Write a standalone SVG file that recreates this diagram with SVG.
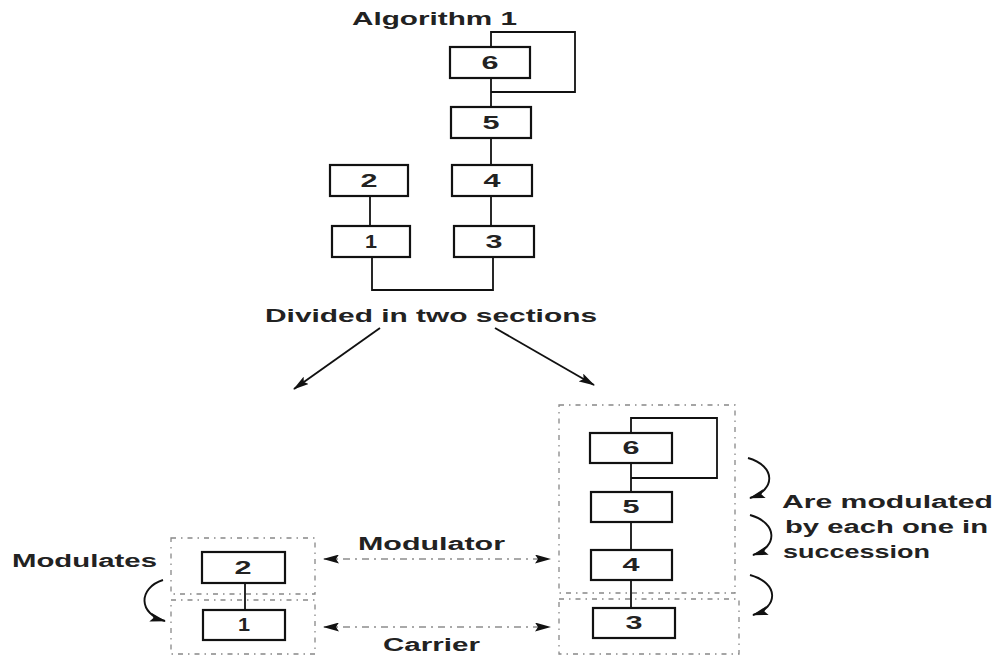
<svg xmlns="http://www.w3.org/2000/svg" width="995" height="656" viewBox="0 0 995 656">
  <style>
    .box { fill: #fff; stroke: #111; stroke-width: 2.2; }
    .num { font-family: "Liberation Sans", Arial, sans-serif; font-size: 18px; font-weight: bold; fill: #222; text-anchor: middle; }
    .lbl { font-family: "Liberation Sans", Arial, sans-serif; font-size: 18px; font-weight: bold; fill: #222; }
    .wire { fill: none; stroke: #111; stroke-width: 1.8; }
    .arrow { fill: none; stroke: #111; stroke-width: 1.9; }
    .group { fill: none; stroke: #888; stroke-width: 1.3; stroke-dasharray: 5 5 1.5 5; }
    .link { fill: none; stroke: #555; stroke-width: 1.2; stroke-dasharray: 7 5 2 5; }
  </style>
  <defs>
    <marker id="head" viewBox="0 0 16 9" refX="15" refY="4.5" markerWidth="16" markerHeight="9" markerUnits="userSpaceOnUse" orient="auto-start-reverse">
      <path d="M0,0 L16,4.5 L0,9 L3,4.5 z" fill="#111"/>
    </marker>
  </defs>

  <rect width="995" height="656" fill="#fff"/>

  <!-- Algorithm 1: full operator stack -->
  <text class="lbl" x="352" y="25" textLength="165" lengthAdjust="spacingAndGlyphs">Algorithm 1</text>

  <g id="connectors">
    <!-- top algorithm wiring -->
    <path class="wire" d="M491,47 V32 H575 V92 H491"/>
    <path class="wire" d="M491,78 V226"/>
    <path class="wire" d="M370,196 V226"/>
    <path class="wire" d="M372,257 V290 H493 V257"/>
    <!-- split arrows -->
    <path class="arrow" d="M380,328 L294,389" marker-end="url(#head)"/>
    <path class="arrow" d="M495,328 L594,385" marker-end="url(#head)"/>
    <!-- bottom left stack -->
    <path class="wire" d="M245,583 V610"/>
    <!-- bottom right stack -->
    <path class="wire" d="M631,433 V418 H717 V478 H631"/>
    <path class="wire" d="M631,463 V608"/>
    <!-- modulator / carrier links -->
    <path class="link" d="M324,559 H550" marker-start="url(#head)" marker-end="url(#head)"/>
    <path class="link" d="M324,627 H550" marker-start="url(#head)" marker-end="url(#head)"/>
    <!-- modulation curves -->
    <path class="arrow" d="M163,580 C138,588 138,614 165,621" marker-end="url(#head)"/>
    <path class="arrow" d="M748,458 C776,466 776,490 750,498" marker-end="url(#head)"/>
    <path class="arrow" d="M750,515 C778,523 778,547 753,555" marker-end="url(#head)"/>
    <path class="arrow" d="M750,575 C779,583 779,607 753,615" marker-end="url(#head)"/>
  </g>

  <!-- dashed section outlines -->
  <g id="sections">
    <rect class="group" x="171" y="538" width="144" height="56"/>
    <rect class="group" x="171" y="600" width="144" height="54"/>
    <rect class="group" x="559" y="405" width="176" height="188"/>
    <rect class="group" x="559" y="599" width="180" height="55"/>
  </g>

  <!-- top operators -->
  <g id="top-op6"><rect class="box" x="450" y="47" width="80" height="31"/><text class="num" x="490" y="69" textLength="17" lengthAdjust="spacingAndGlyphs">6</text></g>
  <g id="top-op5"><rect class="box" x="451" y="107" width="80" height="31"/><text class="num" x="491" y="129" textLength="17" lengthAdjust="spacingAndGlyphs">5</text></g>
  <g id="top-op4"><rect class="box" x="452" y="165" width="80" height="31"/><text class="num" x="492" y="187" textLength="17" lengthAdjust="spacingAndGlyphs">4</text></g>
  <g id="top-op3"><rect class="box" x="454" y="226" width="80" height="31"/><text class="num" x="494" y="248" textLength="17" lengthAdjust="spacingAndGlyphs">3</text></g>
  <g id="top-op2"><rect class="box" x="330" y="165" width="78" height="31"/><text class="num" x="369" y="187" textLength="17" lengthAdjust="spacingAndGlyphs">2</text></g>
  <g id="top-op1"><rect class="box" x="332" y="226" width="78" height="31"/><text class="num" x="371" y="248" textLength="12" lengthAdjust="spacingAndGlyphs">1</text></g>

  <text class="lbl" x="265" y="322" font-size="19" textLength="332" lengthAdjust="spacingAndGlyphs">Divided in two sections</text>

  <!-- left section -->
  <g id="sec-op2"><rect class="box" x="202" y="552" width="83" height="31"/><text class="num" x="243" y="574" textLength="17" lengthAdjust="spacingAndGlyphs">2</text></g>
  <g id="sec-op1"><rect class="box" x="203" y="610" width="82" height="30"/><text class="num" x="244" y="631" textLength="12" lengthAdjust="spacingAndGlyphs">1</text></g>

  <!-- right section -->
  <g id="sec-op6"><rect class="box" x="590" y="433" width="82" height="30"/><text class="num" x="631" y="454" textLength="17" lengthAdjust="spacingAndGlyphs">6</text></g>
  <g id="sec-op5"><rect class="box" x="591" y="492" width="81" height="30"/><text class="num" x="631" y="513" textLength="17" lengthAdjust="spacingAndGlyphs">5</text></g>
  <g id="sec-op4"><rect class="box" x="591" y="550" width="81" height="30"/><text class="num" x="631" y="571" textLength="17" lengthAdjust="spacingAndGlyphs">4</text></g>
  <g id="sec-op3"><rect class="box" x="593" y="608" width="82" height="30"/><text class="num" x="634" y="629" textLength="17" lengthAdjust="spacingAndGlyphs">3</text></g>

  <!-- labels -->
  <text class="lbl" x="12" y="567" font-size="17" textLength="145" lengthAdjust="spacingAndGlyphs">Modulates</text>
  <text class="lbl" x="358" y="550" textLength="147" lengthAdjust="spacingAndGlyphs">Modulator</text>
  <text class="lbl" x="383" y="651" textLength="97" lengthAdjust="spacingAndGlyphs">Carrier</text>
  <text class="lbl" x="782" y="508" textLength="211" lengthAdjust="spacingAndGlyphs">Are modulated</text>
  <text class="lbl" x="785" y="533" textLength="203" lengthAdjust="spacingAndGlyphs">by each one in</text>
  <text class="lbl" x="783" y="558" textLength="147" lengthAdjust="spacingAndGlyphs">succession</text>
</svg>
